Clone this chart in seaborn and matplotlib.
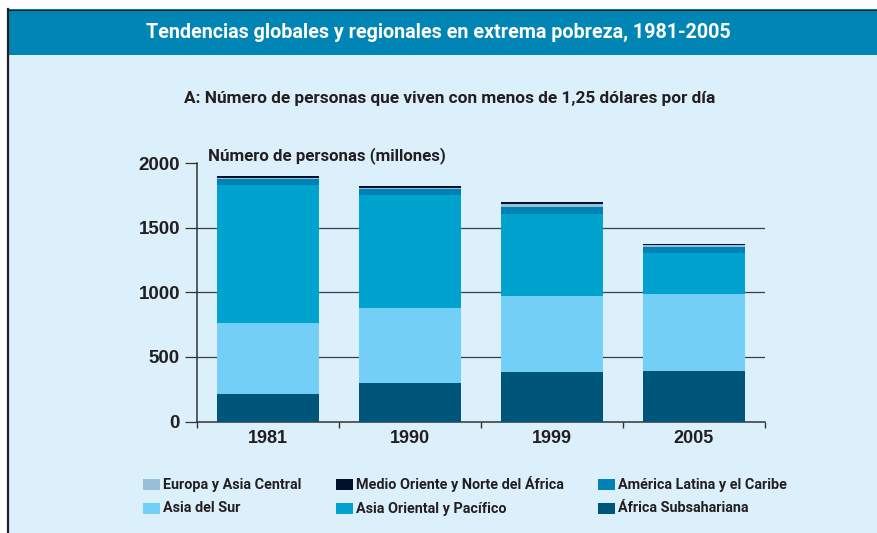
import numpy as np
import pandas as pd
import matplotlib
matplotlib.use("Agg")
import matplotlib.pyplot as plt
import seaborn as sns
from matplotlib.patches import Rectangle
from matplotlib.lines import Line2D

# Millions of people living on less than $1.25 a day
years = ["1981", "1990", "1999", "2005"]
africa_subsahariana = [214, 299, 383, 391]
asia_del_sur = [548, 579, 589, 596]
asia_oriental_pacifico = [1071, 873, 635, 316]
america_latina_caribe = [47, 50, 55, 45]
europa_asia_central = [7, 9, 24, 17]
medio_oriente_norte_africa = [14, 10, 12, 11]

y_ticks = [0, 500, 1000, 1500, 2000]

# stacking order, bottom to top
layers = [
    ("África Subsahariana", africa_subsahariana, "#00567a"),
    ("Asia del Sur", asia_del_sur, "#73cff5"),
    ("Asia Oriental y Pacífico", asia_oriental_pacifico, "#00a3cd"),
    ("América Latina y el Caribe", america_latina_caribe, "#0083b4"),
    ("Europa y Asia Central", europa_asia_central, "#96c0d7"),
    ("Medio Oriente y Norte del África", medio_oriente_norte_africa, "#00112b"),
]
colors = {name: c for name, _, c in layers}

W, H = 877, 533
DARK = "#231f20"
NARROW = ["Roboto", "DejaVu Sans"]
REGULAR = ["Liberation Sans", "DejaVu Sans"]


def fx(x):
    return x / W


def fy(y):
    return 1 - y / H


fig = plt.figure(figsize=(W / 100, H / 100), dpi=100, facecolor="white")

# panel background, title band and frame
fig.patches.append(Rectangle((fx(8), 0), 1 - fx(8), fy(55),
                             transform=fig.transFigure, facecolor="#dbf0fb", edgecolor="none", zorder=0))
fig.patches.append(Rectangle((fx(8), fy(55)), 1 - fx(8), fy(9) - fy(55),
                             transform=fig.transFigure, facecolor="#0085b5", edgecolor="none", zorder=0))
fig.lines.append(Line2D([fx(8), fx(8)], [fy(9), 0], transform=fig.transFigure,
                        color=DARK, linewidth=1.6, zorder=1))
fig.lines.append(Line2D([fx(8), 1], [fy(9.5), fy(9.5)], transform=fig.transFigure,
                        color=DARK, linewidth=0.8, zorder=1))

fig.text(fx(438), fy(32), "Tendencias globales y regionales en extrema pobreza, 1981-2005",
         ha="center", va="center", color="white", fontsize=14.25, fontweight="bold", family=NARROW)
fig.text(fx(449.5), fy(98), "A: Número de personas que viven con menos de 1,25 dólares por día",
         ha="center", va="center", color=DARK, fontsize=12.4, fontweight="bold", family=NARROW)
fig.text(fx(208), fy(156), "Número de personas (millones)",
         ha="left", va="center", color=DARK, fontsize=12.2, fontweight="bold", family=NARROW)

# chart area
ax = fig.add_axes([fx(197), fy(421.5), fx(765) - fx(197), fy(163) - fy(421.5)])
ax.set_zorder(5)
ax.patch.set_alpha(0)

cum = np.cumsum([vals for _, vals, _ in layers], axis=0)
for i in reversed(range(len(layers))):
    sns.barplot(x=years, y=cum[i], color=layers[i][2], width=0.72, saturation=1,
                linewidth=0, edgecolor="none", ax=ax, zorder=3)

for v in [500, 1000, 1500]:
    ax.axhline(v, color="#3d3d3d", linewidth=0.9, zorder=0)

ax.set_xlim(-0.5, 3.5)
ax.set_ylim(0, 2000)
ax.set_yticks(y_ticks)
ax.set_yticklabels([str(t) for t in y_ticks], family=REGULAR, fontweight="bold",
                   fontsize=13.5, color=DARK)
ax.set_xticks(range(len(years)))
ax.set_xticklabels(years, family=REGULAR, fontweight="bold", fontsize=13, color=DARK)
ax.set_xticks([-0.5, 0.5, 1.5, 2.5, 3.5], minor=True)
ax.tick_params(axis="x", which="major", length=0, pad=6)
ax.tick_params(axis="x", which="minor", length=4, width=1.0, color="#333333", direction="out")
ax.tick_params(axis="y", length=8.6, width=0.9, color="#333333", pad=3.6, direction="out")
ax.set_xlabel("")
ax.set_ylabel("")
for s in ["top", "right"]:
    ax.spines[s].set_visible(False)
for s in ["left", "bottom"]:
    ax.spines[s].set_color("#333333")
    ax.spines[s].set_linewidth(1.1)

# legend, laid out in three columns
legend_rows = [
    ["Europa y Asia Central", "Medio Oriente y Norte del África", "América Latina y el Caribe"],
    ["Asia del Sur", "Asia Oriental y Pacífico", "África Subsahariana"],
]
col_x = [143, 336, 598]
row_y = [484.5, 508.5]
for r, row in enumerate(legend_rows):
    for c, name in enumerate(row):
        x0, yc = col_x[c], row_y[r]
        fig.patches.append(Rectangle((fx(x0), fy(yc + 5.5)), fx(17), fy(0) - fy(11),
                                     transform=fig.transFigure, facecolor=colors[name],
                                     edgecolor="none", zorder=2))
        fig.text(fx(x0 + 20), fy(yc), name, ha="left", va="center", color=DARK,
                 fontsize=10.4, fontweight="bold", family=NARROW)

fig.savefig("out.png", dpi=100)
